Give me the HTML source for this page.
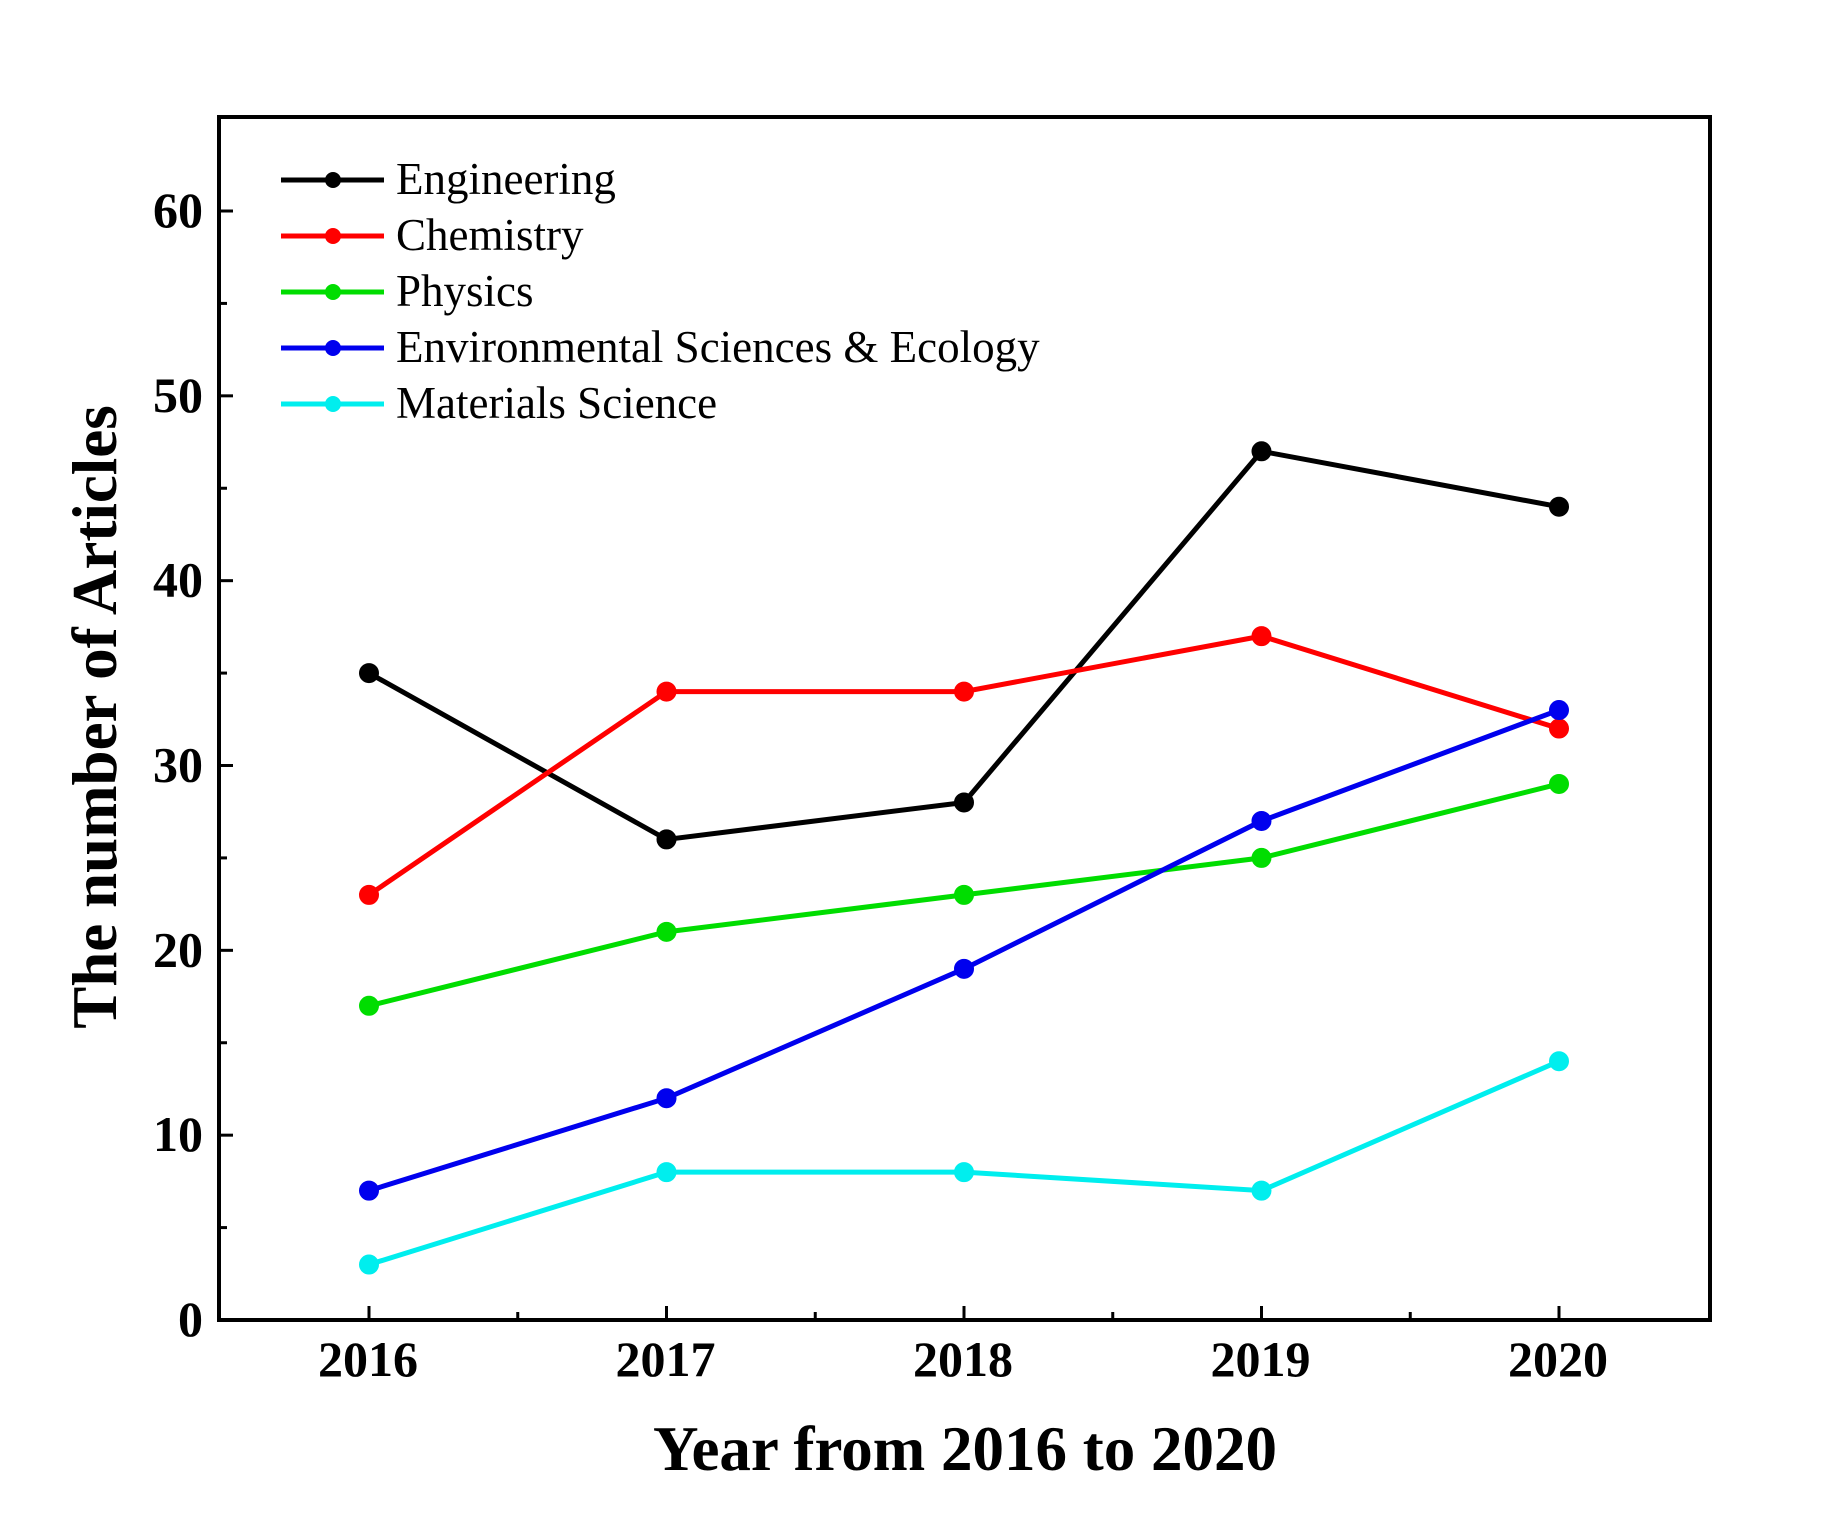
<!DOCTYPE html>
<html><head><meta charset="utf-8"><style>
html,body{margin:0;padding:0;background:#fff;}
svg{display:block;font-family:"Liberation Serif",serif;}
</style></head><body>
<svg id="chart" width="1836" height="1536" viewBox="0 0 1836 1536">
<rect width="1836" height="1536" fill="#fff"/>
<g id="axes"></g><g id="series"></g><g id="legend"></g>
</svg>
<script>
const years=[2016,2017,2018,2019,2020];
const seriesNames=["Engineering","Chemistry","Physics","Environmental Sciences & Ecology","Materials Science"];
const seriesColors=["#000000","#ff0000","#00dd00","#0000ee","#00eeee"];
const engineering=[35,26,28,47,44];
const chemistry=[23,34,34,37,32];
const physics=[17,21,23,25,29];
const environmental=[7,12,19,27,33];
const materials=[3,8,8,7,14];
const yTicks=[0,10,20,30,40,50,60];
const allSeries=[engineering,chemistry,physics,environmental,materials];
const NS="http://www.w3.org/2000/svg";
const L=219,R=1710,T=117,B=1320;
function xs(y){return 369+(y-2016)*(1559-369)/4;}
function ys(v){return 1320-v*(1320-211)/60;}
function mk(t,a,p){const e=document.createElementNS(NS,t);for(const k in a)e.setAttribute(k,a[k]);p.appendChild(e);return e;}
const ax=document.getElementById('axes');
const frame=mk('rect',{x:L,y:T,width:R-L,height:B-T,fill:'none',stroke:'#000','stroke-width':4},ax);


yTicks.forEach(v=>{
  mk('line',{x1:L,x2:L+14,y1:ys(v),y2:ys(v),stroke:'#000','stroke-width':3},ax);
  if(v<60) mk('line',{x1:L,x2:L+8,y1:ys(v+5),y2:ys(v+5),stroke:'#000','stroke-width':3},ax);
  const t=mk('text',{x:203,y:ys(v)+16,'text-anchor':'end','font-size':50,'font-weight':'bold'},ax);
  t.textContent=v;
  
  
});
years.forEach((y,i)=>{
  mk('line',{x1:xs(y),x2:xs(y),y1:B,y2:B-14,stroke:'#000','stroke-width':3},ax);
  if(i<4) mk('line',{x1:xs(y+0.5),x2:xs(y+0.5),y1:B,y2:B-8,stroke:'#000','stroke-width':3},ax);
  const t=mk('text',{x:xs(y)-1,y:1376,'text-anchor':'middle','font-size':50,'font-weight':'bold'},ax);
  t.textContent=y;
  
  
});
const xt=mk('text',{x:965,y:1470,'text-anchor':'middle','font-size':63,'font-weight':'bold'},ax);
xt.textContent='Year from 2016 to 2020';


const yt=mk('text',{x:0,y:0,'text-anchor':'middle','font-size':63,'font-weight':'bold',transform:'translate(116,717) rotate(-90)'},ax);
yt.textContent='The number of Articles';


const sg=document.getElementById('series');
allSeries.forEach((data,si)=>{
  const c=seriesColors[si];
  const pl=mk('polyline',{points:data.map((v,i)=>xs(years[i])+','+ys(v)).join(' '),fill:'none',stroke:c,'stroke-width':5},sg);
  
  
  data.forEach((v,i)=>{
    const p=mk('circle',{cx:xs(years[i]),cy:ys(v),r:9,fill:c,stroke:c,'stroke-width':2},sg);
    
    
  });
});
const lg=document.getElementById('legend');
seriesNames.forEach((n,i)=>{
  const y=180+i*56;
  const g=mk('g',{},lg);
  
  
  mk('line',{x1:281,x2:384,y1:y,y2:y,stroke:seriesColors[i],'stroke-width':5},g);
  mk('circle',{cx:333,cy:y,r:8,fill:seriesColors[i]},g);
  const t=mk('text',{x:396,y:y+14,'font-size':45},g);
  t.textContent=n;
});
</script>
</body></html>
